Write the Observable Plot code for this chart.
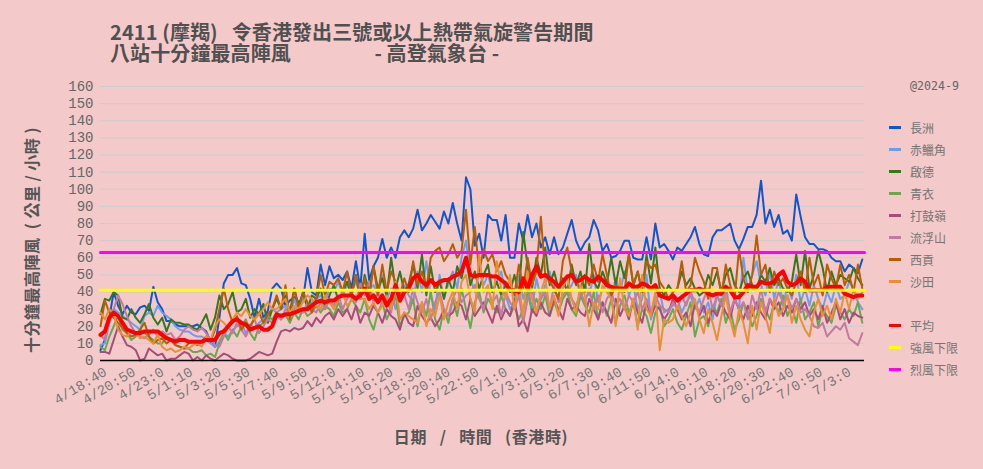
<!DOCTYPE html>
<html><head><meta charset="utf-8">
<script src="https://cdn.jsdelivr.net/npm/d3@7"></script>
<script src="https://cdn.jsdelivr.net/npm/@observablehq/plot@0.6"></script>
<style>
html,body{margin:0;padding:0;background:#f4c9c9;width:983px;height:469px;overflow:hidden}
#wrap{position:relative;width:983px;height:469px}
#wrap svg{position:absolute;left:0;top:0;background:transparent}
.title{position:absolute;left:110px;top:21px;font:700 20px/21px "Noto Sans CJK TC";letter-spacing:.1px;color:#505050;white-space:pre}
.ytitle{position:absolute;left:31px;top:240px;transform:translate(-50%,-50%) rotate(-90deg);font:700 16px "Noto Sans CJK TC";letter-spacing:.5px;color:#555;white-space:pre}
.xtitle{position:absolute;left:481px;top:424px;transform:translateX(-50%);font:700 16px "Noto Sans CJK TC";letter-spacing:.6px;color:#555;white-space:pre}
.stamp{position:absolute;left:910px;top:79px;font:11.6px "DejaVu Sans Mono";color:#666}
#legend{position:absolute;left:889px;top:116px;font:12px "Noto Sans CJK TC";color:#757575}
.row{height:22px;display:flex;align-items:center}
.key{width:12px;height:3px;margin-right:9px}
</style></head><body><div id="wrap">
<div class="title" id="t"></div><div class="ytitle" id="yt"></div><div class="xtitle" id="xt"></div><div class="stamp" id="st"></div><div id="legend"></div>
</div>
<script>
const titleText = "2411 (摩羯)   令香港發出三號或以上熱帶氣旋警告期間\n八站十分鐘最高陣風                  - 高登氣象台 -";
const yTitle = "十分鐘最高陣風  ( 公里 / 小時 )";
const xTitle = "日期   /   時間   (香港時)";
const stamp = "@2024-9";
const tickLabels = ["4/18:40","4/20:50","4/23:0","5/1:10","5/3:20","5/5:30","5/7:40","5/9:50","5/12:0","5/14:10","5/16:20","5/18:30","5/20:40","5/22:50","6/1:0","6/3:10","6/5:20","6/7:30","6/9:40","6/11:50","6/14:0","6/16:10","6/18:20","6/20:30","6/22:40","7/0:50","7/3:0"];
const cheungChau = [6,12,25,40,32,27,32,28,27,31,
32,29,43,34,30,23,23,21,20,20,
20,20,21,19,17,11,8,25,45,50,
50,54,45,44,36,25,36,25,29,42,
45,42,32,35,37,34,36,54,40,38,
56,44,55,48,50,47,52,42,58,42,
74,47,55,60,71,60,66,60,72,76,
72,77,88,76,80,85,81,77,87,80,
92,80,70,107,100,67,74,60,85,82,
82,70,85,60,60,80,70,85,72,80,
66,72,62,72,62,66,74,82,70,64,
69,72,82,76,64,68,60,61,64,70,
70,60,59,59,72,59,80,66,68,64,
59,66,64,68,72,78,68,62,61,72,
76,76,78,80,70,65,71,78,78,85,
105,80,88,78,85,74,76,70,97,84,
72,68,68,65,65,64,60,58,58,52,
56,54,51,59];
const chekLapKok = [9,10,22,30,28,26,24,22,20,18,
26,28,26,32,28,26,24,20,18,17,
17,15,14,14,12,10,8,11,16,14,
18,20,22,16,21,19,22,24,26,30,
28,30,32,26,36,28,38,32,34,36,
38,34,42,40,46,38,44,40,46,38,
48,42,44,38,50,36,42,30,40,44,
38,34,52,40,58,38,30,50,36,45,
52,42,60,70,48,40,52,44,50,40,
46,52,38,30,34,50,36,44,30,48,
36,44,52,40,38,46,40,44,50,36,
44,38,50,34,42,44,36,48,40,52,
38,44,30,36,50,24,34,40,28,30,
32,36,28,34,38,30,36,28,34,24,
38,32,44,28,36,30,60,40,50,58,
44,38,52,36,48,32,44,36,50,34,
42,32,44,36,30,40,34,44,36,38,
46,42,34,30];
const kaiTak = [27,36,35,40,38,25,24,30,25,22,
27,33,25,21,25,17,24,22,22,21,
21,19,18,22,27,18,25,38,30,33,
40,28,30,36,25,30,27,33,22,30,
36,30,38,28,42,32,40,30,38,36,
42,30,38,44,35,40,46,38,50,36,
50,40,55,42,48,38,60,42,52,40,
45,56,42,62,38,55,40,46,36,48,
40,55,48,60,44,52,42,50,56,40,
46,38,44,40,50,38,75,55,42,60,
50,66,44,52,42,48,40,56,44,52,
40,68,46,42,52,45,60,44,58,48,
62,44,52,40,62,45,66,42,38,44,
40,42,52,44,48,42,38,40,50,44,
52,40,50,54,44,40,48,52,44,42,
50,46,54,44,48,42,40,46,62,44,
64,42,50,64,54,40,52,44,50,48,
46,54,48,44];
const tsingYi = [8,6,14,20,26,18,16,12,14,18,
16,14,12,10,10,14,12,9,8,7,
7,5,5,6,3,4,2,10,16,12,
18,14,20,24,16,12,20,22,26,24,
28,24,27,22,28,24,30,26,28,32,
28,32,30,26,34,28,30,36,32,28,
36,24,18,28,34,24,30,38,20,26,
28,36,20,34,26,40,24,18,30,22,
36,26,42,30,19,34,40,28,36,32,
28,38,30,26,32,24,30,40,28,36,
30,38,26,34,28,36,40,30,26,38,
32,28,40,24,34,26,36,22,32,38,
28,34,20,30,26,16,28,32,20,24,
30,22,18,26,34,14,24,26,20,32,
28,36,22,30,18,24,34,28,20,26,
36,30,24,34,28,38,26,32,22,36,
24,28,34,20,30,26,22,32,28,24,
30,26,34,22];
const taKwuLing = [5,5,4,12,20,14,9,8,6,0,
1,7,5,3,4,0,1,1,3,5,
4,0,2,0,3,1,0,2,4,3,
1,0,0,0,1,3,5,4,3,4,
11,17,18,17,19,18,19,23,20,25,
22,26,28,24,30,26,30,24,32,22,
28,26,32,28,22,30,26,24,18,28,
22,20,32,26,22,25,20,24,30,26,
28,34,32,24,36,26,30,34,28,22,
32,24,30,26,36,20,24,17,30,26,
34,28,26,36,30,24,36,30,32,28,
26,36,30,24,34,28,22,36,26,32,
24,36,28,22,34,26,32,30,24,28,
36,30,24,28,20,34,26,32,22,30,
26,34,28,24,36,30,24,32,26,34,
28,24,36,30,34,26,32,28,36,30,
34,26,30,24,32,22,28,34,24,30,
22,28,26,25];
const lauFauShan = [15,12,22,30,38,33,26,20,16,14,
13,15,18,14,17,15,16,12,14,18,
20,18,17,19,16,12,9,8,14,20,
16,22,18,14,20,24,16,20,24,22,
26,24,30,27,30,32,28,34,30,28,
34,30,36,32,38,30,36,40,34,45,
38,46,34,40,32,36,28,44,34,38,
30,42,34,28,36,24,34,40,30,26,
36,42,34,38,40,44,36,30,42,34,
38,26,40,34,30,38,22,36,42,28,
36,40,30,44,34,38,42,36,32,40,
34,42,30,38,28,36,40,32,36,30,
38,34,40,30,36,28,38,32,30,28,
34,30,38,32,40,34,28,36,42,30,
38,32,40,28,36,30,34,24,38,30,
42,28,36,32,40,34,38,30,36,28,
30,26,20,19,22,14,17,20,18,22,
13,11,9,16];
const saiKung = [20,35,28,25,22,19,16,14,15,18,
22,14,10,12,13,10,12,9,8,7,
10,11,9,11,14,11,18,30,42,30,
22,26,18,22,20,25,28,22,27,30,
38,30,44,24,42,30,40,34,28,36,
50,38,46,44,48,40,52,38,50,36,
48,36,55,38,56,40,52,46,38,48,
40,58,44,52,42,60,64,66,58,62,
68,60,64,88,56,78,52,65,58,62,
52,58,50,46,38,56,42,60,44,52,
84,50,46,42,36,58,66,52,46,42,
50,44,56,46,62,50,38,44,42,40,
62,44,52,40,58,54,56,46,42,36,
40,42,58,40,44,60,52,46,36,54,
54,38,56,44,36,65,48,40,50,73,
50,56,40,52,44,48,42,38,46,52,
40,60,44,50,38,56,48,42,56,44,
50,40,56,42];
const shaTin = [28,24,30,27,18,15,14,17,16,13,
14,12,10,15,8,6,7,5,6,8,
7,9,10,8,14,12,20,24,22,19,
24,28,26,30,26,24,27,30,34,30,
30,33,36,28,32,30,34,38,36,32,
30,38,34,30,36,40,32,35,38,36,
36,30,34,28,32,38,30,46,24,28,
26,24,22,34,20,30,26,38,24,34,
40,30,46,50,36,28,62,40,44,30,
58,42,36,50,30,44,26,52,36,28,
40,48,30,38,26,42,50,36,28,44,
38,20,34,30,44,40,36,20,48,30,
26,36,18,50,30,26,40,6,24,22,
24,32,26,20,28,36,24,16,30,22,
12,26,38,24,14,30,22,10,32,18,
34,26,16,36,26,30,38,22,32,24,
18,14,28,36,26,32,24,36,28,40,
30,42,36,40];
const average = [15,17,25,28,26,22,18,17,16,16,
17,17,17,17,15,13,12,11,12,12,
11,11,11,11,12,12,12,16,17,20,
23,24,22,21,18,19,20,18,18,20,
27,26,27,27,28,29,30,30,32,34,
35,34,35,35,37,38,38,38,36,38,
42,36,38,34,38,32,36,44,35,40,
42,48,50,46,44,47,44,46,47,47,
49,50,52,60,50,49,50,50,50,49,
49,47,45,41,41,40,48,42,50,55,
49,50,48,46,43,46,49,50,46,47,
49,47,46,49,47,44,43,42,42,42,
45,43,43,45,44,42,44,38,37,36,
38,35,37,39,41,41,42,41,39,38,
39,39,43,41,37,37,40,44,43,43,
46,45,45,46,50,52,46,44,45,48,
46,41,41,41,41,43,43,43,43,39,
38,37,38,38];
const galeLimit = 41;
const stormLimit = 63;
const stationNames = ["長洲","赤鱲角","啟德","青衣","打鼓嶺","流浮山","西貢","沙田"];
const stationValues = [cheungChau,chekLapKok,kaiTak,tsingYi,taKwuLing,lauFauShan,saiKung,shaTin];
const stationColors = ["#1155cc","#6d9eeb","#38761d","#6aa84f","#a64d79","#c27ba0","#b45f06","#e69138"];
const perTick = 13, perSample = 2, lastIndex = 347;

const tickIdx = tickLabels.map((_, i) => i * perTick);
const idx = (_, i) => i * perSample;
const ends = [0, lastIndex];

const chart = Plot.plot({
  width: 983, height: 469,
  marginLeft: 100, marginRight: 119, marginTop: 86, marginBottom: 109,
  style: {background: "transparent"},
  x: {domain: [0, lastIndex]},
  y: {domain: [0, 160]},
  marks: [
    Plot.gridY(d3.range(0, 161, 10), {stroke: "#c9cdd0", strokeOpacity: 1, strokeWidth: 1}),
    Plot.axisY({ticks: d3.range(0, 161, 10), tickSize: 0, tickPadding: 7, label: null,
      fontFamily: "Liberation Mono", fontSize: 14, fill: "#666"}),
    Plot.axisX({ticks: tickIdx, tickFormat: (d) => tickLabels[d / perTick], tickSize: 0, tickPadding: 10, tickRotate: -31, label: null,
      textAnchor: "end", dx: 5, fontFamily: "Liberation Mono", fontSize: 14, fill: "#777"}),
    ...stationValues.map((vals, s) => Plot.lineY(vals, {x: idx, y: d => d, stroke: stationColors[s], strokeWidth: 2, strokeLinejoin: "round"})),
    Plot.lineY(average, {x: idx, y: d => d, stroke: "#ff0000", strokeWidth: 4, strokeLinejoin: "round"}),
    Plot.lineY(ends, {x: d => d, y: () => galeLimit, stroke: "#ffff00", strokeWidth: 3}),
    Plot.lineY(ends, {x: d => d, y: () => stormLimit, stroke: "#ff00ff", strokeWidth: 3}),
    Plot.ruleY([0], {stroke: "#000", strokeWidth: 1.5})
  ]
});
const wrap = document.getElementById("wrap");
wrap.insertBefore(chart, wrap.firstChild);
document.getElementById("t").textContent = titleText;
document.getElementById("yt").textContent = yTitle;
document.getElementById("xt").textContent = xTitle;
document.getElementById("st").textContent = stamp;
const legend = document.getElementById("legend");
const entries = stationNames.map((n, i) => [n, stationColors[i]]).concat([["", null], ["平均", "#ff0000"], ["強風下限", "#ffff00"], ["烈風下限", "#ff00ff"]]);
for (const [n, c] of entries) {
  const row = document.createElement("div"); row.className = "row";
  if (c) { const k = document.createElement("div"); k.className = "key"; k.style.background = c; row.appendChild(k);
    const s = document.createElement("span"); s.textContent = n; row.appendChild(s); }
  legend.appendChild(row);
}
</script></body></html>
